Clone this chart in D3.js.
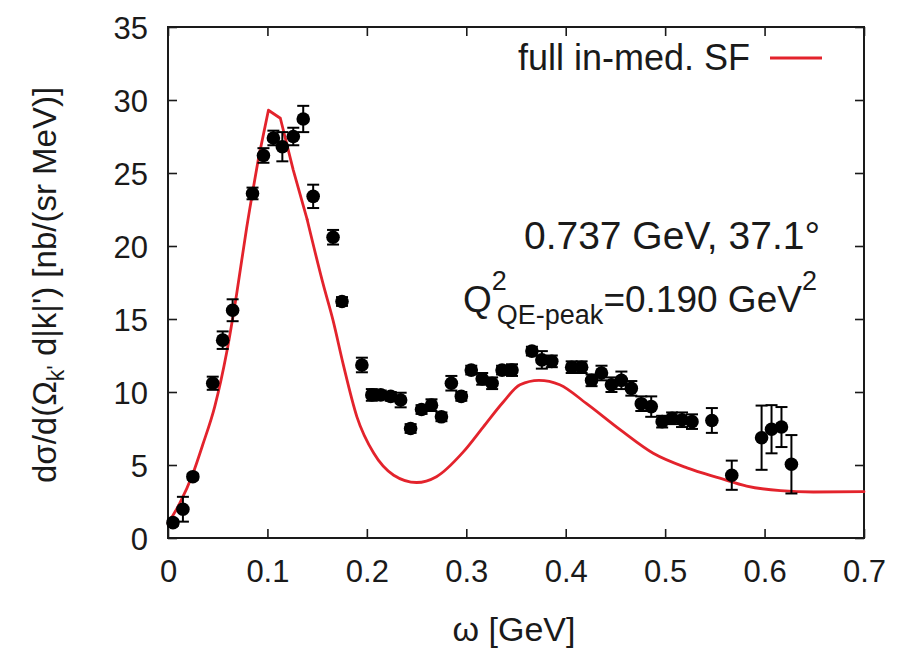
<!DOCTYPE html>
<html>
<head>
<meta charset="utf-8">
<script src="https://cdn.jsdelivr.net/npm/d3@7/dist/d3.min.js"></script>
<style>
  body { margin: 0; background: #fff; }
  svg { display: block; font-family: "Liberation Sans", Arial, Helvetica, sans-serif; }
</style>
</head>
<body>
<svg id="chart" width="903" height="650"></svg>
<script>
// ---- data ----
const omega = [0.005, 0.015, 0.025, 0.045, 0.055, 0.065, 0.085, 0.096, 0.106, 0.115, 0.126, 0.136, 0.146, 0.166, 0.175,
  0.195, 0.205, 0.214, 0.224, 0.234, 0.244, 0.255, 0.265, 0.275, 0.285, 0.295, 0.305, 0.316, 0.326, 0.336, 0.346,
  0.366, 0.376, 0.386, 0.406, 0.416, 0.426, 0.436, 0.446, 0.456, 0.466, 0.476, 0.486, 0.497, 0.507, 0.517, 0.527,
  0.547, 0.567, 0.597, 0.607, 0.617, 0.627];
const xsec = [1.05, 1.97, 4.2, 10.6, 13.55, 15.6, 23.6, 26.2, 27.4, 26.8, 27.5, 28.7, 23.4, 20.6, 16.2,
  11.85, 9.8, 9.8, 9.7, 9.45, 7.5, 8.8, 9.1, 8.3, 10.6, 9.7, 11.5, 10.9, 10.6, 11.5, 11.5,
  12.8, 12.2, 12.1, 11.7, 11.7, 10.8, 11.3, 10.5, 10.8, 10.25, 9.2, 9.0, 7.97, 8.2, 8.1, 7.97,
  8.05, 4.3, 6.87, 7.45, 7.6, 5.05];
const xsecErr = [0.2, 0.85, 0.2, 0.45, 0.6, 0.75, 0.4, 0.5, 0.5, 1.0, 0.6, 0.9, 0.8, 0.5, 0.3,
  0.5, 0.4, 0.3, 0.3, 0.5, 0.3, 0.3, 0.4, 0.3, 0.5, 0.3, 0.3, 0.4, 0.4, 0.3, 0.4,
  0.3, 0.6, 0.4, 0.4, 0.4, 0.4, 0.5, 0.5, 0.6, 0.5, 0.5, 0.7, 0.4, 0.4, 0.5, 0.5,
  0.85, 1.0, 2.2, 1.65, 1.37, 2.0];

// model curve ("full in-med. SF")
const curveOmega = [0.0, 0.012, 0.025, 0.035, 0.047, 0.059, 0.069, 0.079, 0.091, 0.101, 0.113, 0.126, 0.14, 0.156,
  0.166, 0.176, 0.19, 0.207, 0.227, 0.25, 0.27, 0.297, 0.317, 0.337, 0.354, 0.373, 0.394, 0.421, 0.455, 0.488,
  0.522, 0.555, 0.582, 0.616, 0.649, 0.7];
const curveXsec = [1.0, 2.4, 4.4, 6.4, 9.0, 12.7, 16.7, 21.2, 26.0, 29.3, 28.75, 25.2, 21.8, 17.4,
  14.9, 11.96, 8.3, 5.8, 4.3, 3.8, 4.2, 5.9, 7.6, 9.3, 10.5, 10.8, 10.5, 9.2, 7.4, 5.8,
  4.8, 4.1, 3.56, 3.24, 3.15, 3.17];

const xTicks = [0, 0.1, 0.2, 0.3, 0.4, 0.5, 0.6, 0.7];
const yTicks = [0, 5, 10, 15, 20, 25, 30, 35];
const legendLabel = "full in-med. SF";

// ---- layout ----
const svg = d3.select("#chart");
const L = 168, R = 864, T = 27, B = 538;
const x = d3.scaleLinear().domain([0, 0.7]).range([L, R]);
const y = d3.scaleLinear().domain([0, 35]).range([B, T]);
const red = "#e3232c";
const ink = "#1a1a1a";

// ticks (inward, all four sides)
const tickLen = 9;
const axB = svg.append("g").attr("transform", `translate(0,${B})`)
  .call(d3.axisBottom(x).tickValues(xTicks).tickSizeInner(-tickLen).tickSizeOuter(0).tickPadding(22)
    .tickFormat(d => d === 0 ? "0" : d3.format(".1f")(d)));
const axT = svg.append("g").attr("transform", `translate(0,${T})`)
  .call(d3.axisTop(x).tickValues(xTicks).tickSizeInner(-tickLen).tickSizeOuter(0).tickFormat(""));
const axL = svg.append("g").attr("transform", `translate(${L},0)`)
  .call(d3.axisLeft(y).tickValues(yTicks).tickSizeInner(-tickLen).tickSizeOuter(0).tickPadding(20));
const axR = svg.append("g").attr("transform", `translate(${R},0)`)
  .call(d3.axisRight(y).tickValues(yTicks).tickSizeInner(-tickLen).tickSizeOuter(0).tickFormat(""));
[axB, axT, axL, axR].forEach(g => {
  g.select(".domain").remove();
  g.selectAll(".tick line").attr("stroke", ink).attr("stroke-width", 1.6);
  g.selectAll(".tick text").attr("fill", ink).attr("font-size", 31).attr("font-family", "Liberation Sans, Arial, sans-serif");
});
axL.selectAll(".tick text").attr("dy", "0.36em");

// frame
svg.append("rect").attr("x", L).attr("y", T).attr("width", R - L).attr("height", B - T)
  .attr("fill", "none").attr("stroke", ink).attr("stroke-width", 2);

// model curve: smooth rise, sharp peak (linear), smooth tail
const curvePts = curveOmega.map((o, i) => [o, curveXsec[i]]);
const i1 = curveOmega.indexOf(0.091), i2 = curveOmega.indexOf(0.14);
const lin = d3.line().x(d => x(d[0])).y(d => y(d[1]));
const smooth = d3.line().x(d => x(d[0])).y(d => y(d[1])).curve(d3.curveMonotoneX);
[[curvePts.slice(0, i1 + 1), smooth], [curvePts.slice(i1, i2 + 1), lin], [curvePts.slice(i2), smooth]].forEach(([seg, gen]) => {
  svg.append("path").datum(seg).attr("d", gen).attr("fill", "none").attr("stroke", red)
    .attr("stroke-width", 2.8).attr("stroke-linejoin", "round").attr("stroke-linecap", "round");
});

// data points with error bars
const pts = omega.map((o, i) => ({ o, v: xsec[i], e: xsecErr[i] }));
const capW = 6;
const eg = svg.append("g").attr("stroke", "#000").attr("stroke-width", 2);
pts.forEach(p => {
  eg.append("line").attr("x1", x(p.o)).attr("x2", x(p.o)).attr("y1", y(p.v - p.e)).attr("y2", y(p.v + p.e));
  eg.append("line").attr("x1", x(p.o) - capW).attr("x2", x(p.o) + capW).attr("y1", y(p.v - p.e)).attr("y2", y(p.v - p.e));
  eg.append("line").attr("x1", x(p.o) - capW).attr("x2", x(p.o) + capW).attr("y1", y(p.v + p.e)).attr("y2", y(p.v + p.e));
});
svg.append("g").selectAll("circle").data(pts).join("circle")
  .attr("cx", p => x(p.o)).attr("cy", p => y(p.v)).attr("r", 6.8).attr("fill", "#000");

// legend
svg.append("text").attr("x", 750).attr("y", 70).attr("text-anchor", "end")
  .attr("font-size", 36).attr("fill", ink).text(legendLabel);
svg.append("line").attr("x1", 770).attr("x2", 822).attr("y1", 58).attr("y2", 58)
  .attr("stroke", red).attr("stroke-width", 2.8);

// annotations
svg.append("text").attr("x", 820).attr("y", 249).attr("text-anchor", "end")
  .attr("font-size", 39).attr("fill", ink).text("0.737 GeV, 37.1°");
const q = svg.append("text").attr("x", 463).attr("y", 312).attr("font-size", 37).attr("fill", ink);
q.append("tspan").text("Q");
q.append("tspan").attr("font-size", 27).attr("dy", -22).text("2");
q.append("tspan").attr("font-size", 27).attr("dx", -10).attr("dy", 34).text("QE-peak");
q.append("tspan").attr("dy", -12).text("=0.190 GeV");
q.append("tspan").attr("font-size", 27).attr("dy", -22).text("2");

// axis titles
svg.append("text").attr("x", 514).attr("y", 641).attr("text-anchor", "middle")
  .attr("font-size", 34).attr("fill", ink).text("ω [GeV]");
const yt = svg.append("text").attr("transform", "translate(56,285) rotate(-90)")
  .attr("text-anchor", "middle").attr("font-size", 33).attr("fill", ink);
yt.append("tspan").text("dσ/d(Ω");
yt.append("tspan").attr("font-size", 23).attr("dy", 8).text("k'");
yt.append("tspan").attr("dy", -8).text(" d|k|') [nb/(sr MeV)]");
</script>
</body>
</html>
